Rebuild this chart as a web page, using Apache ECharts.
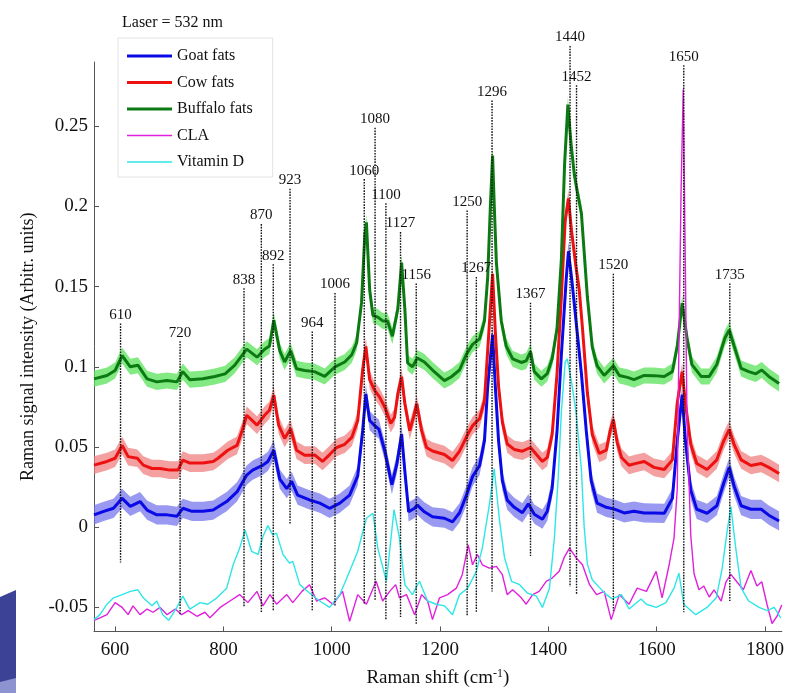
<!DOCTYPE html>
<html lang="en">
<head>
<meta charset="UTF-8">
<title>Raman spectra</title>
<script src="https://cdn.jsdelivr.net/npm/echarts@6/dist/echarts.min.js"></script>
<style>
  html, body { margin: 0; padding: 0; background: #fff; }
  #chart { width: 787px; height: 693px; }
</style>
</head>
<body>
<div id="chart"></div>
<script>
// spectra: [Raman shift, intensity]
var goat = [[561,0.0077],[579,0.0099],[597,0.0118],[613,0.018],[628,0.013],[646,0.016],[659,0.0107],[677,0.0077],[696,0.0077],[714,0.0068],[725,0.0118],[742,0.0099],[762,0.0099],[781,0.0107],[806,0.016],[825,0.022],[843,0.0325],[854,0.0356],[873,0.0387],[882,0.041],[893,0.048],[904,0.030],[917,0.024],[926,0.0286],[937,0.020],[959,0.017],[978,0.015],[996,0.0118],[1015,0.015],[1033,0.020],[1048,0.032],[1057,0.060],[1063,0.083],[1070,0.0665],[1079,0.0634],[1087,0.0612],[1098,0.0475],[1111,0.0265],[1120,0.039],[1129,0.058],[1135,0.0348],[1142,0.0096],[1153,0.0118],[1158,0.0138],[1171,0.0096],[1186,0.0065],[1208,0.0056],[1223,0.0033],[1236,0.009],[1249,0.0202],[1260,0.0316],[1273,0.0385],[1282,0.054],[1288,0.088],[1297,0.12],[1302,0.088],[1308,0.054],[1315,0.029],[1324,0.0169],[1337,0.0124],[1352,0.009],[1363,0.0146],[1374,0.0081],[1389,0.005],[1398,0.01],[1407,0.0243],[1416,0.060],[1424,0.1076],[1433,0.155],[1437,0.172],[1443,0.155],[1451,0.129],[1461,0.0958],[1470,0.060],[1479,0.029],[1490,0.015],[1507,0.0124],[1522,0.0113],[1540,0.0089],[1558,0.01],[1577,0.0089],[1595,0.0088],[1614,0.0087],[1629,0.018],[1638,0.054],[1647,0.0826],[1653,0.054],[1663,0.023],[1674,0.0112],[1693,0.0087],[1711,0.0134],[1724,0.0277],[1734,0.0373],[1743,0.0255],[1756,0.0134],[1774,0.0112],[1793,0.0112],[1807,0.0075],[1826,0.0039]];

var cow = [[561,0.0387],[585,0.041],[600,0.043],[613,0.051],[624,0.044],[641,0.043],[652,0.0387],[668,0.0366],[683,0.0366],[701,0.0356],[716,0.0356],[725,0.0418],[738,0.040],[762,0.040],[781,0.041],[790,0.043],[808,0.048],[825,0.051],[834,0.0596],[843,0.0698],[862,0.0636],[876,0.0698],[885,0.0729],[893,0.0822],[902,0.0636],[913,0.0553],[924,0.0615],[935,0.048],[950,0.0449],[969,0.045],[983,0.041],[996,0.0453],[1009,0.0497],[1024,0.0517],[1037,0.056],[1048,0.0665],[1057,0.098],[1063,0.1127],[1070,0.092],[1079,0.0854],[1088,0.0813],[1098,0.0748],[1109,0.0646],[1116,0.0686],[1122,0.0832],[1129,0.0938],[1135,0.077],[1144,0.0602],[1151,0.0686],[1157,0.077],[1166,0.0602],[1175,0.0497],[1186,0.0475],[1208,0.0453],[1223,0.0416],[1236,0.0474],[1249,0.0565],[1260,0.0633],[1273,0.0677],[1282,0.079],[1288,0.1106],[1297,0.158],[1302,0.122],[1308,0.088],[1315,0.0655],[1324,0.0519],[1337,0.0485],[1352,0.0474],[1367,0.0497],[1378,0.0453],[1389,0.041],[1398,0.0435],[1407,0.0578],[1416,0.0958],[1424,0.1435],[1431,0.191],[1437,0.205],[1443,0.184],[1451,0.1624],[1457,0.148],[1463,0.124],[1472,0.0838],[1481,0.0578],[1494,0.046],[1507,0.048],[1514,0.060],[1520,0.067],[1527,0.0529],[1535,0.0435],[1549,0.0386],[1562,0.0398],[1577,0.041],[1595,0.0373],[1614,0.036],[1629,0.042],[1638,0.0776],[1647,0.097],[1653,0.0776],[1663,0.0515],[1674,0.0397],[1693,0.036],[1711,0.042],[1724,0.054],[1734,0.061],[1743,0.0515],[1756,0.042],[1774,0.0385],[1793,0.0397],[1807,0.0373],[1826,0.0335]];

var buffalo = [[561,0.0925],[585,0.0946],[600,0.0977],[613,0.107],[628,0.100],[642,0.101],[659,0.0925],[677,0.0906],[696,0.0915],[714,0.0906],[725,0.097],[738,0.092],[762,0.0925],[784,0.094],[803,0.0956],[821,0.101],[834,0.107],[843,0.111],[862,0.106],[876,0.111],[885,0.113],[893,0.129],[904,0.110],[913,0.103],[924,0.110],[935,0.0988],[950,0.0977],[968,0.097],[987,0.094],[1006,0.100],[1024,0.103],[1037,0.1075],[1046,0.115],[1055,0.140],[1061,0.182],[1064,0.190],[1070,0.148],[1076,0.132],[1085,0.131],[1094,0.1286],[1103,0.1286],[1112,0.119],[1122,0.136],[1129,0.165],[1135,0.136],[1140,0.1025],[1149,0.100],[1158,0.1055],[1171,0.103],[1186,0.098],[1208,0.0914],[1221,0.0938],[1236,0.098],[1249,0.108],[1260,0.114],[1273,0.1174],[1282,0.1286],[1288,0.156],[1293,0.201],[1297,0.2317],[1300,0.201],[1304,0.165],[1313,0.1286],[1322,0.113],[1334,0.105],[1350,0.1027],[1359,0.1037],[1367,0.1095],[1374,0.097],[1387,0.0925],[1398,0.0958],[1407,0.105],[1416,0.124],[1424,0.167],[1430,0.2267],[1436,0.2635],[1442,0.2385],[1448,0.2195],[1453,0.210],[1461,0.1957],[1466,0.172],[1472,0.1435],[1481,0.1124],[1490,0.1006],[1503,0.0946],[1520,0.1006],[1531,0.0946],[1546,0.0934],[1558,0.092],[1577,0.0946],[1595,0.0945],[1614,0.094],[1629,0.097],[1638,0.113],[1647,0.1397],[1656,0.118],[1665,0.1014],[1682,0.094],[1697,0.094],[1711,0.1014],[1726,0.118],[1734,0.123],[1743,0.113],[1756,0.099],[1770,0.097],[1783,0.0956],[1794,0.098],[1807,0.094],[1826,0.0896]];

var cla = [[561,-0.058],[572,-0.0565],[585,-0.0545],[600,-0.047],[613,-0.050],[624,-0.0545],[633,-0.049],[646,-0.0545],[659,-0.051],[670,-0.053],[683,-0.050],[696,-0.0545],[711,-0.051],[723,-0.0545],[735,-0.052],[751,-0.0555],[766,-0.053],[775,-0.0565],[794,-0.050],[812,-0.046],[830,-0.042],[845,-0.047],[862,-0.040],[873,-0.049],[886,-0.042],[898,-0.048],[917,-0.042],[928,-0.047],[945,-0.040],[959,-0.0358],[972,-0.046],[987,-0.044],[1002,-0.048],[1020,-0.040],[1033,-0.0586],[1048,-0.042],[1064,-0.048],[1082,-0.0337],[1094,-0.046],[1107,-0.040],[1118,-0.0358],[1125,-0.044],[1138,-0.042],[1153,-0.0545],[1166,-0.042],[1177,-0.046],[1186,-0.0576],[1199,-0.044],[1214,-0.042],[1230,-0.038],[1241,-0.0296],[1252,-0.011],[1260,-0.0234],[1269,-0.017],[1278,-0.0234],[1291,-0.0255],[1304,-0.0244],[1315,-0.0296],[1324,-0.042],[1334,-0.039],[1350,-0.044],[1359,-0.048],[1371,-0.042],[1383,-0.040],[1396,-0.0337],[1407,-0.0317],[1420,-0.0275],[1429,-0.019],[1439,-0.013],[1451,-0.019],[1463,-0.0234],[1476,-0.0358],[1489,-0.042],[1503,-0.040],[1516,-0.0576],[1531,-0.042],[1549,-0.048],[1564,-0.038],[1581,-0.040],[1599,-0.0275],[1610,-0.044],[1623,-0.0234],[1632,-0.0068],[1638,0.024],[1641,0.113],[1645,0.209],[1649,0.273],[1653,0.161],[1656,0.066],[1663,-0.0056],[1669,-0.029],[1678,-0.039],[1687,-0.0366],[1697,-0.0435],[1706,-0.039],[1719,-0.046],[1728,-0.034],[1737,-0.0294],[1748,-0.034],[1760,-0.039],[1774,-0.027],[1785,-0.0366],[1794,-0.034],[1804,-0.0485],[1813,-0.060],[1822,-0.0556],[1831,-0.0485]];

var vitD = [[561,-0.0576],[572,-0.0545],[585,-0.048],[597,-0.044],[613,-0.042],[628,-0.040],[642,-0.039],[652,-0.044],[668,-0.049],[677,-0.046],[688,-0.0545],[699,-0.058],[714,-0.050],[725,-0.043],[738,-0.051],[757,-0.047],[771,-0.048],[788,-0.044],[806,-0.038],[818,-0.0234],[830,-0.013],[840,-0.0017],[852,-0.015],[864,-0.017],[873,-0.0058],[882,0.001],[891,-0.0048],[898,-0.0037],[910,-0.017],[922,-0.0224],[928,-0.0213],[941,-0.0358],[959,-0.041],[978,-0.046],[996,-0.050],[1015,-0.042],[1033,-0.0274],[1048,-0.015],[1064,0.0056],[1076,0.0087],[1085,-0.013],[1101,-0.0337],[1115,0.011],[1125,-0.0068],[1135,-0.0358],[1149,-0.042],[1162,-0.0337],[1177,-0.046],[1193,-0.048],[1208,-0.049],[1223,-0.0545],[1236,-0.042],[1251,-0.038],[1267,-0.0275],[1278,-0.013],[1291,0.0139],[1300,0.0366],[1310,0.0035],[1319,-0.019],[1332,-0.0337],[1347,-0.0358],[1361,-0.041],[1378,-0.043],[1389,-0.050],[1402,-0.038],[1411,-0.007],[1418,0.030],[1424,0.072],[1431,0.103],[1435,0.105],[1443,0.090],[1451,0.072],[1461,0.036],[1466,0.0006],[1472,-0.023],[1481,-0.0327],[1494,-0.0375],[1507,-0.042],[1518,-0.0447],[1535,-0.042],[1549,-0.051],[1571,-0.0447],[1581,-0.048],[1599,-0.050],[1617,-0.047],[1632,-0.038],[1641,-0.0286],[1650,-0.048],[1672,-0.0545],[1693,-0.050],[1710,-0.044],[1721,-0.0255],[1730,-0.0027],[1737,0.0129],[1746,-0.013],[1756,-0.038],[1770,-0.046],[1789,-0.050],[1804,-0.052],[1817,-0.050],[1829,-0.0565]];

// half width of the shaded band round each fat spectrum
var goatSd = 0.006, cowSd = 0.0055, buffaloSd = 0.005;

// marked peaks: position, top and bottom of the dotted line
var peakPos = [610, 720, 838, 870, 892, 923, 964, 1006, 1060, 1080, 1100, 1127, 1156, 1250, 1267, 1296, 1367, 1440, 1452, 1520, 1650, 1735];
var peakTop = [0.127, 0.116, 0.149, 0.189, 0.164, 0.211, 0.122, 0.146, 0.217, 0.249, 0.202, 0.184, 0.152, 0.1975, 0.156, 0.266, 0.140, 0.300, 0.2755, 0.158, 0.288, 0.152];
var peakBottom = [-0.022, -0.055, -0.050, -0.053, -0.052, 0.002, -0.052, -0.049, -0.048, -0.046, -0.058, -0.056, -0.061, -0.055, -0.053, -0.040, -0.018, -0.037, -0.042, -0.052, -0.053, -0.046];

var xTicks = [600, 800, 1000, 1200, 1400, 1600, 1800];
var yTicks = [-0.05, 0, 0.05, 0.1, 0.15, 0.2, 0.25];

var serif = "'Liberation Serif', 'Times New Roman', 'DejaVu Serif', serif";

var chart = echarts.init(document.getElementById('chart'));

function band(name, pts, sd, color) {
  return {
    type: 'custom', name: name, silent: true, z: 1,
    data: [pts[0]],
    renderItem: function (params, api) {
      var up = pts.map(function (p) { return api.coord([p[0], p[1] + sd]); });
      var lo = pts.slice().reverse().map(function (p) { return api.coord([p[0], p[1] - sd]); });
      return { type: 'polygon', shape: { points: up.concat(lo) }, style: { fill: color } };
    }
  };
}

function spectrum(name, pts, color, width) {
  return {
    type: 'line', name: name, data: pts, symbol: 'none', z: 3,
    lineStyle: { color: color, width: width }, itemStyle: { color: color }
  };
}

// plain line icons for the legend, thick for fats, thin for references
var thickIcon = 'path://M0,0H45V3H0Z';
var thinIcon = 'path://M0,0H45V1.4H0Z';

var peakData = peakPos.map(function (p, i) { return [p, peakTop[i], peakBottom[i]]; });

var option = {
  animation: false,
  backgroundColor: '#fff',
  textStyle: { fontFamily: serif },
  title: {
    text: 'Laser = 532 nm', left: 117, top: 10,
    textStyle: { fontFamily: serif, fontSize: 16, fontWeight: 'normal', color: '#111' }
  },
  legend: {
    left: 118, top: 38, orient: 'vertical',
    data: [
      { name: 'Goat fats', icon: thickIcon },
      { name: 'Cow fats', icon: thickIcon },
      { name: 'Buffalo fats', icon: thickIcon },
      { name: 'CLA', icon: thinIcon },
      { name: 'Vitamin D', icon: thinIcon }
    ],
    itemWidth: 45, itemHeight: 14, itemGap: 10.5,
    padding: [10, 20, 7, 9],
    backgroundColor: '#fff', borderColor: '#e2e2e2', borderWidth: 1,
    textStyle: { fontFamily: serif, fontSize: 16, color: '#111' }
  },
  grid: { left: 94, right: 4, top: 62, bottom: 60 },
  xAxis: {
    type: 'value', min: 561, max: 1831,
    name: 'Raman shift (cm{sup|-1})', nameLocation: 'middle', nameGap: 36,
    nameTextStyle: {
      fontFamily: serif, fontSize: 19, color: '#111',
      rich: { sup: { fontFamily: serif, fontSize: 12, color: '#111', verticalAlign: 'top', padding: [0, 0, 10, 0] } }
    },
    axisLine: { onZero: false, lineStyle: { color: '#555', width: 1 } },
    axisTick: { inside: true, length: 5, customValues: xTicks, lineStyle: { color: '#555' } },
    axisLabel: {
      customValues: xTicks, margin: 9, fontFamily: serif, fontSize: 19, color: '#111',
      formatter: function (v) { return String(v); }
    },
    splitLine: { show: false }
  },
  yAxis: {
    type: 'value', min: -0.065, max: 0.29,
    name: 'Raman signal intensity (Arbitr. units)', nameLocation: 'middle', nameGap: 57,
    nameTextStyle: { fontFamily: serif, fontSize: 18, color: '#111' },
    axisLine: { show: true, onZero: false, lineStyle: { color: '#555', width: 1 } },
    axisTick: { show: true, inside: true, length: 5, customValues: yTicks, lineStyle: { color: '#555' } },
    axisLabel: {
      customValues: yTicks, margin: 6, fontFamily: serif, fontSize: 19, color: '#111',
      formatter: function (v) { return String(+v.toFixed(2)); }
    },
    splitLine: { show: false }
  },
  graphic: [
    { type: 'polygon', silent: true, shape: { points: [[0, 597], [16, 590], [16, 693], [0, 693]] }, style: { fill: '#3c4296' } },
    { type: 'polygon', silent: true, shape: { points: [[0, 682], [16, 678], [16, 693], [0, 693]] }, style: { fill: '#8d93d0' } }
  ],
  series: [
    band('buffaloBand', buffalo, buffaloSd, 'rgba(90,225,90,0.75)'),
    band('cowBand', cow, cowSd, 'rgba(240,120,120,0.7)'),
    band('goatBand', goat, goatSd, 'rgba(110,110,235,0.7)'),
    spectrum('Goat fats', goat, '#0a0ae6', 3),
    spectrum('Cow fats', cow, '#ee1111', 3),
    spectrum('Buffalo fats', buffalo, '#0c7a12', 3),
    spectrum('CLA', cla, '#e020dc', 1.4),
    spectrum('Vitamin D', vitD, '#2ee6e6', 1.4),
    {
      type: 'custom', name: 'peakLabels', silent: true, z: 4,
      data: peakData, encode: { x: 0, y: [1, 2] },
      renderItem: function (params, api) {
        var top = api.coord([api.value(0), api.value(1)]);
        return {
          type: 'text',
          style: {
            text: String(api.value(0)), x: top[0], y: top[1] - 1,
            align: 'center', verticalAlign: 'bottom',
            font: '15px ' + serif, fill: '#111'
          }
        };
      }
    },
    {
      type: 'custom', name: 'peakLines', silent: true, z: 5,
      data: peakData, encode: { x: 0, y: [1, 2] },
      renderItem: function (params, api) {
        var top = api.coord([api.value(0), api.value(1)]);
        var bot = api.coord([api.value(0), api.value(2)]);
        return {
          type: 'line',
          shape: { x1: top[0], y1: top[1], x2: bot[0], y2: bot[1] },
          style: { stroke: '#111', lineWidth: 1.4, lineDash: [1.6, 1.2] }
        };
      }
    }
  ]
};

chart.setOption(option);
</script>
</body>
</html>
